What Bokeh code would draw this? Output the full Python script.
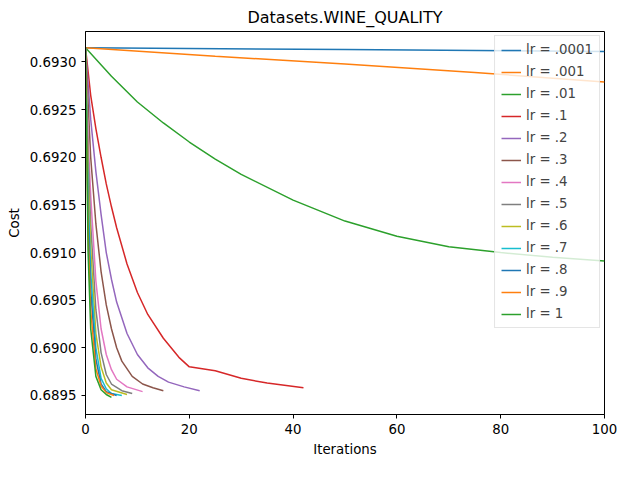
from bokeh.plotting import figure
from bokeh.models import Range1d, Legend, LegendItem, SingleIntervalTicker, NumeralTickFormatter
from bokeh.embed import file_html
from bokeh.resources import INLINE

labels = ["lr = .0001","lr = .001","lr = .01","lr = .1","lr = .2","lr = .3","lr = .4",
          "lr = .5","lr = .6","lr = .7","lr = .8","lr = .9","lr = 1"]
colors = ["#1f77b4","#ff7f0e","#2ca02c","#d62728","#9467bd","#8c564b","#e377c2",
          "#7f7f7f","#bcbd22","#17becf","#1f77b4","#ff7f0e","#2ca02c"]
xs = [
 [0,50,100],
 [0,25,50,75,100],
 [0,5,10,15,20,25,30,40,50,60,70,80,90,100],
 [0,1,2,3,4,5,6,8,10,12,15,18,20,25,30,35,42],
 [0,1,2,3,4,5,6,8,10,12,14,16,19,22],
 [0,1,2,3,4,5,6,7,9,11,13,15],
 [0,0.5,1,2,3,4,5,6,8,11],
 [0,0.5,1,2,3,4,5,7,9],
 [0,0.5,1,2,3,4,5,8],
 [0,0.5,1,2,3,4,5,7],
 [0,0.5,1,2,3,4,6],
 [0,0.5,1,2,3,4,5.5],
 [0,0.5,1,2,3,4,5],
]
ys = [
 [0.69315,0.69313,0.69311],
 [0.69315,0.69306,0.69298,0.69289,0.69279],
 [0.69315,0.69285,0.69258,0.69236,0.69216,0.69198,0.69182,0.69155,0.69133,0.69117,0.69106,0.69100,0.69095,0.69091],
 [0.69315,0.69265,0.69230,0.69200,0.69172,0.69148,0.69126,0.69088,0.69058,0.69035,0.69010,0.68990,0.68980,0.68976,0.68968,0.68963,0.68958],
 [0.69315,0.69240,0.69185,0.69140,0.69100,0.69072,0.69048,0.69015,0.68993,0.68979,0.68970,0.68964,0.68959,0.68955],
 [0.69315,0.69200,0.69130,0.69080,0.69045,0.69020,0.69000,0.68986,0.68970,0.68962,0.68958,0.68955],
 [0.69315,0.69220,0.69160,0.69070,0.69020,0.68993,0.68977,0.68967,0.68959,0.68954],
 [0.69315,0.69200,0.69130,0.69040,0.68995,0.68972,0.68962,0.68955,0.68952],
 [0.69315,0.69180,0.69105,0.69015,0.68980,0.68963,0.68956,0.68951],
 [0.69315,0.69160,0.69080,0.69000,0.68968,0.68957,0.68952,0.68950],
 [0.69315,0.69140,0.69060,0.68988,0.68962,0.68954,0.68950],
 [0.69315,0.69120,0.69040,0.68978,0.68960,0.68953,0.68950],
 [0.69315,0.69100,0.69020,0.68970,0.68956,0.68951,0.68948],
]

p = figure(width=624, height=464, output_backend="svg", toolbar_location=None,
           title="Datasets.WINE_QUALITY", x_range=Range1d(0,100), y_range=Range1d(0.68930,0.69332),
           x_axis_label="Iterations", y_axis_label="Cost", min_border_left=85, min_border_right=20,
           min_border_top=30, min_border_bottom=50)
p.title.align = "center"; p.title.text_font_size = "12pt"; p.title.text_font_style = "normal"
p.title.text_font = "DejaVu Sans"; p.title.text_color = "black"
p.grid.visible = False
p.outline_line_color = "black"
p.xaxis.ticker = SingleIntervalTicker(interval=20)
p.yaxis.ticker = SingleIntervalTicker(interval=0.0005)
p.yaxis.formatter = NumeralTickFormatter(format="0.0000")
for ax in (p.xaxis[0], p.yaxis[0]):
    ax.axis_label_text_font_style = "normal"
    ax.axis_label_text_font_size = "10pt"
    ax.major_label_text_font_size = "10pt"
    ax.axis_label_text_font = "DejaVu Sans"
    ax.major_label_text_font = "DejaVu Sans"
    ax.axis_label_text_color = "black"
    ax.major_label_text_color = "black"
    ax.axis_line_color = "black"; ax.major_tick_line_color = "black"
    ax.minor_tick_line_color = None
    ax.major_tick_out = 4; ax.major_tick_in = 0
items = []
for lab, c, x, y in zip(labels, colors, xs, ys):
    r = p.line(x, y, line_color=c, line_width=1.5)
    items.append(LegendItem(label=lab, renderers=[r]))
leg = Legend(items=items, location="top_right", label_text_font_size="10pt",
             label_text_font="DejaVu Sans", glyph_height=14, label_height=14, spacing=7,
             padding=6, margin=4, border_line_color="#cccccc", background_fill_alpha=0.8)
p.add_layout(leg)
open("out.html","w").write(file_html(p, INLINE))
